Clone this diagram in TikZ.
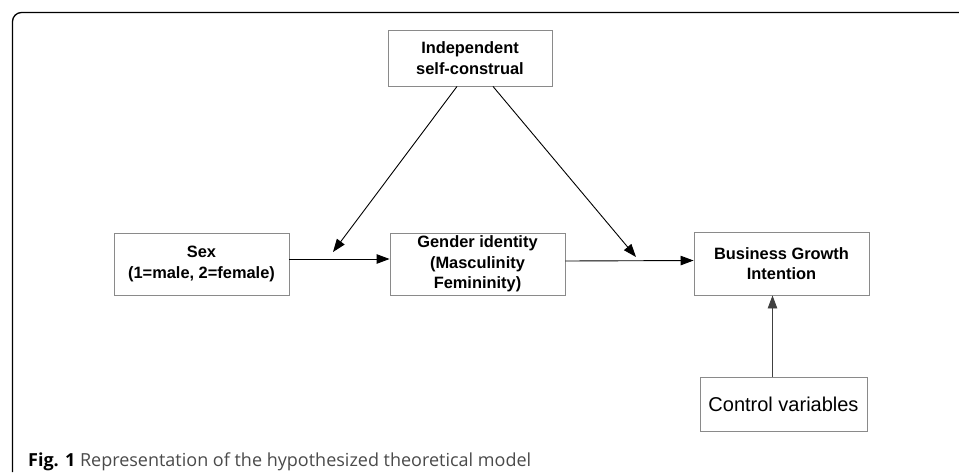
\documentclass[tikz,border=0pt]{standalone}
\usepackage{fontspec}
\setmainfont{Liberation Sans}
\newfontfamily\capfont{Open Sans}
\usetikzlibrary{arrows.meta,calc}
\definecolor{boxgray}{HTML}{8A8A8A}
\definecolor{capgray}{HTML}{4A4A4A}
\tikzset{
  varbox/.style={draw=boxgray, line width=0.9pt, rectangle, align=center, inner sep=0pt,
    font=\fontsize{16.4}{20.5}\selectfont\bfseries},
  conn/.style={draw=black, line width=0.9pt, -{Triangle[length=13pt,width=9.5pt]}},
}
\begin{document}
\begin{tikzpicture}[x=1pt,y=-1pt]
\useasboundingbox (0,0) rectangle (959,472);
% frame
\draw[line width=1.3pt, rounded corners=9pt] (12.5,472) -- (12.5,12.5) -- (959,12.5);
% nodes
\node[varbox, minimum width=164pt, minimum height=56pt] (ind) at (470,58) {Independent\\self-construal};
\node[varbox, minimum width=175pt, minimum height=62pt] (sex) at (201.5,264) {Sex\\(1=male, 2=female)};
\node[varbox, minimum width=175pt, minimum height=62pt] (gen) at (477.5,264) {Gender identity\\(Masculinity\\Femininity)};
\node[varbox, minimum width=175pt, minimum height=63pt] (bus) at (781.5,263.5) {Business Growth\\Intention};
\node[varbox, minimum width=167pt, minimum height=54pt, font=\fontsize{20}{24}\selectfont] (ctl) at (783.5,404) {Control variables};
\coordinate (m1) at (333,252);
\coordinate (m2) at (636,257);
% connectors
\draw[conn] ([xshift=-13pt]ind.south) -- (m1);
\draw[conn] ([xshift=23pt]ind.south) -- (m2);
\draw[conn] ([yshift=5pt]sex.east) -- ([yshift=5pt]gen.west);
\draw[conn] ([yshift=3pt]gen.east) -- ([yshift=3pt]bus.west);
\draw[conn, draw=black!75] ([xshift=-11pt]ctl.north) -- ([xshift=-9pt]bus.south);
% caption
\node[anchor=base west, inner sep=0pt, font=\capfont\fontsize{18}{21}\selectfont, text=capgray] (cap) at (28,466)
  {\textcolor{black}{\bfseries Fig. 1} Representation of the hypothesized theoretical model};
\end{tikzpicture}
\end{document}
